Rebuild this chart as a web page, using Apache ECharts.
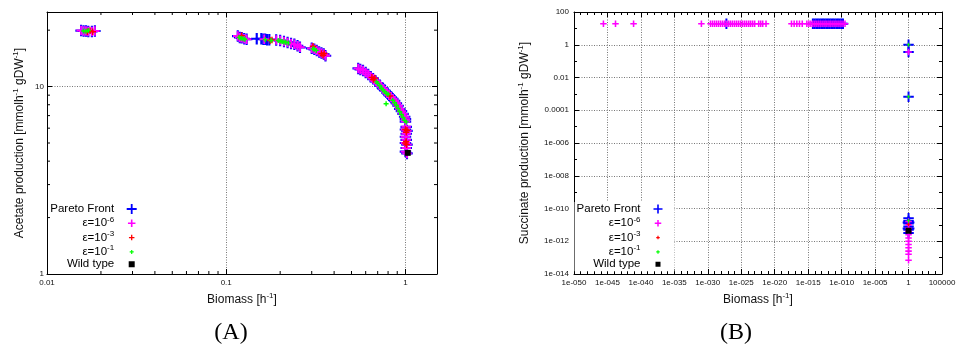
<!DOCTYPE html>
<html><head><meta charset="utf-8">
<script src="https://cdn.jsdelivr.net/npm/echarts@6/dist/echarts.min.js"></script>
<style>html,body{margin:0;padding:0;background:#fff}#c{width:956px;height:346px}</style>
</head><body><div id="c"></div>
<script>
// ---------------- Panel A: Biomass [h^-1] vs Acetate production ----------------
const xTicksA = [0.01, 0.1, 1];
const xTickLabelsA = ['0.01', '0.1', '1'];
const yTicksA = [1, 10];
const yTickLabelsA = ['1', '10'];
const minorXA = [0.02,0.03,0.04,0.05,0.06,0.07,0.08,0.09,0.2,0.3,0.4,0.5,0.6,0.7,0.8,0.9];
const minorYA = [2,3,4,5,6,7,8,9,20];

const paretoA = [
  [0.0155,19.9],[0.016,19.8],[0.0165,19.8],[0.017,19.7],[0.0178,19.7],[0.0185,19.8],
  [0.116,18.6],[0.119,18.3],[0.122,18.2],[0.126,18.0],[0.13,17.9],
  [0.148,18.0],[0.157,18.0],[0.161,17.9],[0.165,17.9],[0.169,17.8],[0.174,17.8],
  [0.19,17.7],[0.2,17.6],[0.21,17.4],[0.22,17.2],[0.23,17.0],[0.24,16.8],[0.25,16.5],[0.258,16.2],
  [0.30,16.0],[0.31,15.8],[0.32,15.6],[0.33,15.3],[0.34,15.1],[0.35,14.9],[0.358,14.6],
  [0.545,12.5],[0.56,12.35],[0.58,12.2],[0.60,11.9],[0.62,11.6],[0.64,11.3],[0.66,11.0],[0.68,10.7],
  [0.70,10.45],[0.72,10.15],[0.75,9.75],[0.77,9.5],[0.79,9.25],[0.81,9.0],[0.83,8.8],[0.85,8.6],
  [0.87,8.4],[0.89,8.15],[0.91,7.9],[0.93,7.6],[0.95,7.4],[0.97,7.15],[0.99,6.9],[1.0,6.7],
  [1.0,6.5],[1.01,6.1],[1.0,5.9],[1.02,5.8],[1.01,5.6],[1.0,5.4],[1.01,5.2],[1.0,5.0],
  [1.02,4.9],[1.01,4.7],[1.0,4.5],[1.02,4.4]
];
const eps6A = [
  [0.0155,19.9],[0.016,19.8],[0.0165,19.8],[0.017,19.7],[0.0178,19.7],[0.0185,19.8],
  [0.116,18.6],[0.119,18.3],[0.122,18.2],[0.126,18.0],[0.13,17.9],
  [0.163,17.9],
  [0.19,17.7],[0.2,17.6],[0.21,17.4],[0.22,17.2],[0.23,17.0],[0.24,16.8],[0.25,16.5],[0.258,16.2],
  [0.30,16.0],[0.31,15.8],[0.32,15.6],[0.33,15.3],[0.34,15.1],[0.35,14.9],[0.358,14.6],
  [0.545,12.5],[0.56,12.35],[0.58,12.2],[0.60,11.9],[0.62,11.6],[0.64,11.3],[0.66,11.0],[0.68,10.7],
  [0.70,10.45],[0.72,10.15],[0.75,9.75],[0.77,9.5],[0.79,9.25],[0.81,9.0],[0.83,8.8],[0.85,8.6],
  [0.87,8.4],[0.89,8.15],[0.91,7.9],[0.93,7.6],[0.95,7.4],[0.97,7.15],[0.99,6.9],[1.0,6.7],
  [1.0,6.5],[1.01,6.1],[1.0,5.9],[1.02,5.8],[1.01,5.6],[1.0,5.4],[1.01,5.2],[1.0,5.0],
  [1.02,4.9],[1.01,4.7],[1.0,4.5],[1.02,4.4]
];
const eps3A = [
  [0.0168,19.6],[0.0174,19.85],[0.018,19.6],[0.122,18.7],[0.176,17.6],[0.18,17.75],
  [0.305,16.4],[0.34,15.0],[0.347,14.7],[0.352,15.0],[0.65,11.2],[0.662,10.9],[0.675,11.1],
  [0.82,8.9],[1.0,5.9],[1.01,5.7],[1.02,5.85],[1.0,5.0],[1.01,5.1],[1.015,4.9]
];
const eps1A = [
  [0.016,19.8],[0.0165,19.75],[0.017,19.9],[0.118,18.3],[0.121,18.1],[0.124,18.0],[0.127,17.9],
  [0.165,17.8],[0.178,17.6],[0.195,17.6],[0.2,17.5],[0.205,17.4],[0.21,17.3],[0.215,17.25],[0.222,17.1],
  [0.305,15.9],[0.31,15.8],[0.318,15.6],
  [0.69,10.6],[0.70,10.4],[0.72,10.1],[0.735,9.8],[0.75,9.6],[0.765,9.4],[0.78,9.2],[0.80,9.1],
  [0.78,8.1],[0.85,8.45],[0.87,8.2],[0.89,7.95],[0.91,7.65],[0.93,7.35],[0.95,7.1],[0.97,6.85],
  [0.99,6.6],[1.01,6.48]
];
const wildA = [[1.03,4.43]];

// ---------------- Panel B: Biomass [h^-1] vs Succinate production ----------------
const xTickLabelsB = ['1e-050','1e-045','1e-040','1e-035','1e-030','1e-025','1e-020','1e-015','1e-010','1e-005','1','100000'];
const yTickLabelsB = ['1e-014','1e-012','1e-010','1e-008','1e-006','0.0001','0.01','1','100'];

const paretoB = [
  [5e-15,19],[8.9e-15,19],[1.6e-14,19],[2.8e-14,19],[5e-14,19],[8.9e-14,19],[1.6e-13,19],[2.8e-13,19],
  [5e-13,19],[8.9e-13,19],[1.6e-12,19],[2.8e-12,19],[5e-12,19],[8.9e-12,19],[1.6e-11,19],[2.8e-11,19],
  [5e-11,19],[8.9e-11,19],[1.6e-10,19],
  [6e-28,19],
  [1,1],[1,0.36],[1,6.6e-4],
  [1,2.5e-11],[1,1.7e-11],[1,1.2e-11],[1,8e-12],[1,5e-12],[1,3.2e-12],
  [0.8,1.4e-11],[1.25,1.4e-11],[0.8,6e-12],[1.25,6e-12]
];
const eps6B = [
  [2.5e-46,19],[1.6e-44,19],[8e-42,19],[1.1e-31,19],
  [2.5e-30,19],[5e-30,19],[1e-29,19],[2e-29,19],[4e-29,19],[8e-29,19],[1.6e-28,19],[3.2e-28,19],
  [6.3e-28,19],[1.3e-27,19],[2.5e-27,19],[5e-27,19],[1e-26,19],[2e-26,19],[4e-26,19],[8e-26,19],
  [1.6e-25,19],[3.2e-25,19],[6.3e-25,19],[1.3e-24,19],[2.5e-24,19],[5e-24,19],[1e-23,19],
  [4e-23,19],[8e-23,19],[1.6e-22,19],[5e-22,19],
  [3.2e-18,19],[8e-18,19],[2e-17,19],[5e-17,19],[1.3e-16,19],
  [6.3e-16,19],[1.3e-15,19],[2.5e-15,19],[5e-15,19],[1e-14,19],[2e-14,19],[4e-14,19],[8e-14,19],
  [1.6e-13,19],[3.2e-13,19],[6.3e-13,19],[1.3e-12,19],[2.5e-12,19],[5e-12,19],[1e-11,19],[2e-11,19],
  [4e-11,19],[8e-11,19],[1.6e-10,19],[3.2e-10,19],
  [1,0.36],
  [1,1.6e-11],[1,1e-11],[1,6.3e-12],[1,4e-12],[1,2.5e-12],[1,1.6e-12],[1,1e-12],[1,6.3e-13],
  [1,4e-13],[1,2.5e-13],[1,1.6e-13],[1,7e-14]
];
const eps3B = [[1,1.1e-11]];
const eps1B = [[1,1],[1,6.6e-4],[1,1.8e-11]];
const wildB = [[1,4.4e-12]];

// ---------------- helpers ----------------
const FONT = '"Liberation Sans", Arial, sans-serif';
const TXT = '#111';
const plusPath = t => { const a = 8 - t / 2, b = 8 + t / 2;
  return `path://M${a},0H${b}V${a}H16V${b}H${b}V16H${a}V${b}H0V${a}H${a}Z`; };
// legend icons drawn in a 12px box (16 units)
const iconPlus = (size, thick) => { const h = size / 2 / 0.75, t = thick / 2 / 0.75;
  const a = 8 - h, b = 8 + h, p = 8 - t, q = 8 + t;
  return `path://M0,0ZM16,16ZM${p},${a}H${q}V${p}H${b}V${q}H${q}V${b}H${p}V${q}H${a}V${p}H${p}Z`; };
const iconSquare = size => { const h = size / 2 / 0.75;
  return `path://M0,0ZM16,16ZM${8 - h},${8 - h}H${8 + h}V${8 + h}H${8 - h}Z`; };
const toExp = arr => arr.map(([x, y]) => [Math.log10(x), Math.log10(y)]);

const NAMES = ['Pareto Front', 'ε=10-6', 'ε=10-3', 'ε=10-1', 'Wild type'];
const RICHNAME = {
  'Pareto Front': '{m|Pareto Front}{g|}', 'ε=10-6': '{m|ε=10}{s|-6}{g|}', 'ε=10-3': '{m|ε=10}{s|-3}{g|}',
  'ε=10-1': '{m|ε=10}{s|-1}{g|}', 'Wild type': '{m|Wild type}{g|}'
};
const richLegend = {
  m: { fontFamily: FONT, fontSize: 11.5, color: '#000', lineHeight: 16 },
  s: { fontFamily: FONT, fontSize: 8, color: '#000', lineHeight: 9, verticalAlign: 'top' },
  g: { width: 6.5, lineHeight: 16 }
};
const richName = {
  m: { fontFamily: FONT, fontSize: 12, color: TXT, lineHeight: 16 },
  s: { fontFamily: FONT, fontSize: 8, color: TXT, lineHeight: 9, verticalAlign: 'top' }
};

function sc(name, data, ai, color, size, symbol, z) {
  return { type: 'scatter', name, data, xAxisIndex: ai, yAxisIndex: ai, symbol, symbolSize: size,
    itemStyle: { color, opacity: 1 }, silent: true, emphasis: { disabled: true }, z, clip: false };
}

const A_X = [0.01, 1.5], A_Y = [1, 25];
function minorTicks(vals, dim) {
  return { type: 'custom', name: 'minor' + dim, xAxisIndex: 0, yAxisIndex: 0, silent: true, clip: false, z: 1,
    data: vals.map(v => dim === 'x' ? [v, A_Y[0]] : [A_X[0], v]),
    renderItem: (params, api) => {
      const st = { stroke: '#000', lineWidth: 1 };
      if (dim === 'x') {
        const v = api.value(0), b = api.coord([v, A_Y[0]]), t = api.coord([v, A_Y[1]]);
        return { type: 'group', children: [
          { type: 'line', shape: { x1: b[0], y1: b[1], x2: b[0], y2: b[1] - 3 }, style: st },
          { type: 'line', shape: { x1: t[0], y1: t[1], x2: t[0], y2: t[1] + 3 }, style: st }] };
      }
      const v = api.value(1), l = api.coord([A_X[0], v]), r = api.coord([A_X[1], v]);
      return { type: 'group', children: [
        { type: 'line', shape: { x1: l[0], y1: l[1], x2: l[0] + 3, y2: l[1] }, style: st },
        { type: 'line', shape: { x1: r[0], y1: r[1], x2: r[0] - 3, y2: r[1] }, style: st }] };
    } };
}

const lblA = (ticks, labels) => v => { const i = ticks.findIndex(t => Math.abs(Math.log10(t) - Math.log10(v)) < 1e-6); return i >= 0 ? labels[i] : ''; };
const tickStyle = { inside: true, length: 5, lineStyle: { color: '#000', width: 1 } };
const gridLine = { show: true, lineStyle: { color: '#777', type: [1, 1.5], width: 1 } };
const axLine = { show: true, onZero: false, lineStyle: { color: '#000', width: 1 } };
const lab = { fontFamily: FONT, fontSize: 8, color: TXT };

const chart = echarts.init(document.getElementById('c'), null, { renderer: 'canvas' });
chart.setOption({
  animation: false,
  backgroundColor: '#fff',
  grid: [
    { left: 47, top: 12, width: 390, height: 262, show: false, outerBoundsMode: 'none', containLabel: false },
    { left: 574, top: 12, width: 368, height: 262, show: false, outerBoundsMode: 'none', containLabel: false }
  ],
  xAxis: [
    { type: 'log', gridIndex: 0, min: A_X[0], max: A_X[1], position: 'bottom', axisLine: axLine,
      axisTick: tickStyle, splitLine: gridLine,
      axisLabel: Object.assign({ margin: 5, formatter: lblA(xTicksA, xTickLabelsA) }, lab),
      name: '{m|Biomass [h}{s|-1}{m|]}', nameLocation: 'middle', nameGap: 14, nameTextStyle: { rich: richName } },
    { type: 'log', gridIndex: 0, min: A_X[0], max: A_X[1], position: 'top', axisLine: axLine,
      axisTick: tickStyle, splitLine: { show: false }, axisLabel: { show: false } },
    { type: 'value', gridIndex: 1, min: -50, max: 5, interval: 5, position: 'bottom', axisLine: axLine,
      axisTick: tickStyle, minorTick: { show: true, splitNumber: 5, length: 3, lineStyle: { color: '#000' } },
      splitLine: gridLine,
      axisLabel: Object.assign({ margin: 5, formatter: v => xTickLabelsB[Math.round((v + 50) / 5)] || '' }, lab),
      name: '{m|Biomass [h}{s|-1}{m|]}', nameLocation: 'middle', nameGap: 14, nameTextStyle: { rich: richName } },
    { type: 'value', gridIndex: 1, min: -50, max: 5, interval: 5, position: 'top', axisLine: axLine,
      axisTick: tickStyle, minorTick: { show: true, splitNumber: 5, length: 3, lineStyle: { color: '#000' } },
      splitLine: { show: false }, axisLabel: { show: false } }
  ],
  yAxis: [
    { type: 'log', gridIndex: 0, min: A_Y[0], max: A_Y[1], position: 'left', axisLine: axLine,
      axisTick: tickStyle, splitLine: gridLine,
      axisLabel: Object.assign({ margin: 3, formatter: lblA(yTicksA, yTickLabelsA) }, lab),
      name: '{m|Acetate production [mmolh}{s|-1}{m| gDW}{s|-1}{m|]}', nameLocation: 'middle', nameGap: 19,
      nameTextStyle: { rich: richName } },
    { type: 'log', gridIndex: 0, min: A_Y[0], max: A_Y[1], position: 'right', axisLine: axLine,
      axisTick: tickStyle, splitLine: { show: false }, axisLabel: { show: false } },
    { type: 'value', gridIndex: 1, min: -14, max: 2, interval: 2, position: 'left', axisLine: axLine,
      axisTick: tickStyle, minorTick: { show: true, splitNumber: 2, length: 3, lineStyle: { color: '#000' } },
      splitLine: gridLine,
      axisLabel: Object.assign({ margin: 5, formatter: v => yTickLabelsB[Math.round((v + 14) / 2)] || '' }, lab),
      name: '{m|Succinate production [mmolh}{s|-1}{m| gDW}{s|-1}{m|]}', nameLocation: 'middle', nameGap: 41,
      nameTextStyle: { rich: richName } },
    { type: 'value', gridIndex: 1, min: -14, max: 2, interval: 2, position: 'right', axisLine: axLine,
      axisTick: tickStyle, minorTick: { show: true, splitNumber: 2, length: 3, lineStyle: { color: '#000' } },
      splitLine: { show: false }, axisLabel: { show: false } }
  ],
  legend: [
    { orient: 'vertical', align: 'right', right: 818.3, top: 203, padding: 0, itemWidth: 12, itemHeight: 12,
      itemGap: 0.3, selectedMode: false, formatter: n => RICHNAME[n], textStyle: { rich: richLegend },
      data: [
        { name: NAMES[0], icon: iconPlus(10, 1.8) }, { name: NAMES[1], icon: iconPlus(7.5, 1.6) },
        { name: NAMES[2], icon: iconPlus(5.5, 1.3) }, { name: NAMES[3], icon: iconPlus(4, 1.2) },
        { name: NAMES[4], icon: iconSquare(6) }] },
    { orient: 'vertical', align: 'right', right: 281.5, top: 202, padding: [1, 10.5, 1, 2], itemWidth: 12, itemHeight: 12,
      itemGap: 0.3, selectedMode: false, backgroundColor: '#fff', formatter: n => RICHNAME[n], textStyle: { rich: richLegend },
      data: [
        { name: NAMES[0], icon: iconPlus(9, 1.6) }, { name: NAMES[1], icon: iconPlus(6.5, 1.5) },
        { name: NAMES[2], icon: iconPlus(3.5, 1.2) }, { name: NAMES[3], icon: iconPlus(3.5, 1.2) },
        { name: NAMES[4], icon: iconSquare(5) }] }
  ],
  series: [
    minorTicks(minorXA, 'x'), minorTicks(minorYA, 'y'),
    sc(NAMES[0], paretoA, 0, '#0000ff', 11.5, plusPath(3), 2),
    sc(NAMES[1], eps6A, 0, '#ff00ff', 9.5, plusPath(3.2), 3),
    sc(NAMES[2], eps3A, 0, '#ff0000', 6.5, plusPath(3.5), 4),
    sc(NAMES[3], eps1A, 0, '#00ff00', 5, plusPath(4.5), 5),
    sc(NAMES[4], wildA, 0, '#000000', 6, 'rect', 6),
    sc(NAMES[0], toExp(paretoB), 2, '#0000ff', 10.5, plusPath(3), 2),
    sc(NAMES[1], toExp(eps6B), 2, '#ff00ff', 6.5, plusPath(3.8), 3),
    sc(NAMES[2], toExp(eps3B), 2, '#ff0000', 4, plusPath(4), 4),
    sc(NAMES[3], toExp(eps1B), 2, '#00ff00', 4, plusPath(4), 5),
    sc(NAMES[4], toExp(wildB), 2, '#000000', 6, 'rect', 6)
  ],
  graphic: [
    { type: 'text', x: 231, y: 333, style: { text: '(A)', fontSize: 24, fontFamily: '"Liberation Serif", "DejaVu Serif", serif', fill: '#000', align: 'center', verticalAlign: 'middle' } },
    { type: 'text', x: 736, y: 333, style: { text: '(B)', fontSize: 24, fontFamily: '"Liberation Serif", "DejaVu Serif", serif', fill: '#000', align: 'center', verticalAlign: 'middle' } }
  ]
});
</script>
</body></html>
